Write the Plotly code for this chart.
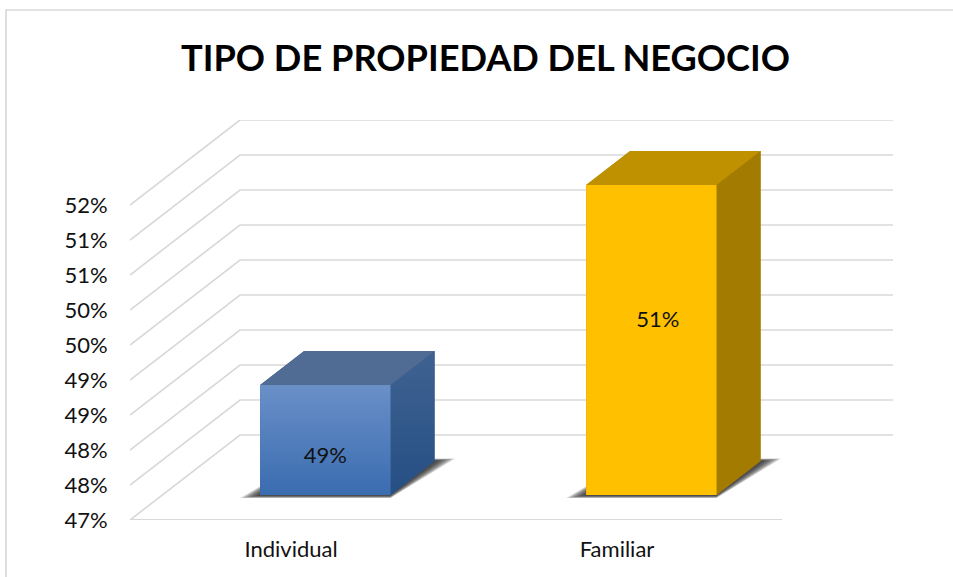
import plotly.graph_objects as go

# ---- data ----
categories = ["Individual", "Familiar"]
values = [48.57, 51.43]
value_labels = ["49%", "51%"]
y_ticks = [47, 47.5, 48, 48.5, 49, 49.5, 50, 50.5, 51, 51.5]
y_tick_labels = ["47%", "48%", "48%", "49%", "49%", "50%", "50%", "51%", "51%", "52%"]
title_text = "TIPO DE PROPIEDAD DEL NEGOCIO"

# ---- 3D projection (oblique), in axis units ----
W, H = 953, 577
L, R, T, B = 130, 60, 120, 57
PX_X = 326.0          # pixels per category
PX_Y = 70.0           # pixels per percentage point
DEPTH_X = 110 / PX_X  # full floor depth expressed in x units
DEPTH_Y = 85 / PX_Y   # full floor depth expressed in y units
BASE = y_ticks[0]
X0 = -0.5
X1 = X0 + (W - L - R) / PX_X
Y1 = BASE + (H - T - B) / PX_Y
HALF = 0.2
D0, D1 = 0.294, 0.694
GRID = "#d9d9d9"
FONT = "Lato"


def proj(x, v, d):
    return x + d * DEPTH_X, v + d * DEPTH_Y


def poly(points, **kw):
    xs, ys = zip(*[proj(*p) for p in points + points[:1]])
    return go.Scatter(x=xs, y=ys, mode="lines", fill="toself", hoverinfo="skip",
                      showlegend=False, line=dict(width=0), **kw)


def grad(bottom, top):
    return dict(type="vertical", colorscale=[[0, bottom], [1, top]])


styles = [
    dict(front=grad("#3a6cb0", "#6a90c8"), side=grad("#264f85", "#3f6290"), top="#516c94",
         back="#30598c"),
    dict(front=grad("#ffc000", "#ffc000"), side=grad("#a37b00", "#a37b00"), top="#bf9000",
         back="#a37b00"),
]

fig = go.Figure()

# gridlines: front-left -> back-left -> back-right
for t in y_ticks:
    a, b, c = (X0, t, 0), (X0, t, 1), (X1 - DEPTH_X, t, 1)
    xs, ys = zip(*[proj(*p) for p in (a, b, c)])
    fig.add_trace(go.Scatter(x=xs, y=ys, mode="lines", hoverinfo="skip", showlegend=False,
                             line=dict(color=GRID, width=1.7)))
# floor front edge
fig.add_trace(go.Scatter(x=[X0, X0 + len(categories)], y=[BASE, BASE], mode="lines",
                         hoverinfo="skip", showlegend=False, line=dict(color=GRID, width=2)))

# bars
LAYERS = 14
for i, v in enumerate(values):
    s = styles[i]
    l, r = i - HALF, i + HALF
    # soft shadow on the floor: layers shrinking towards the bar
    for k in range(LAYERS):
        f = 1 - k / LAYERS
        grow = 0.05 * f
        near = D0 - 0.006 - 0.03 * f
        far = D1 + 0.03 * f
        fig.add_trace(poly([(l - grow, BASE, near), (r + 0.012 * f, BASE, near),
                            (r + 0.004 + grow, BASE, far), (l, BASE, far)],
                           fillcolor="rgba(40,40,40,0.11)"))
    # silhouette backing, so no shadow shows through the seams between faces
    fig.add_trace(poly([(l, BASE, D0), (r, BASE, D0), (r, BASE, D1), (r, v, D1), (l, v, D1), (l, v, D0)],
                       fillcolor=s["back"]))
    # right side
    fig.add_trace(poly([(r, BASE, D0), (r, BASE, D1), (r, v, D1), (r, v, D0)],
                       fillgradient=s["side"]))
    # top
    fig.add_trace(poly([(l, v, D0), (r, v, D0), (r, v, D1), (l, v, D1)],
                       fillcolor=s["top"]))
    # front
    fig.add_trace(poly([(l, BASE, D0), (r, BASE, D0), (r, v, D0), (l, v, D0)],
                       fillgradient=s["front"]))

# value labels, placed inside the front faces
label_anchor = [(0.0, 47.90), (0.02, 49.83)]
fig.add_trace(go.Scatter(
    x=[proj(i + a[0], a[1], 0)[0] + D0 * DEPTH_X for i, a in enumerate(label_anchor)],
    y=[a[1] for a in label_anchor],
    mode="text", text=value_labels, textposition="middle center",
    textfont=dict(family=FONT, size=22, color="#111111"),
    hoverinfo="skip", showlegend=False))

fig.update_layout(
    width=W, height=H,
    margin=dict(l=L, r=R, t=T, b=B, pad=0),
    paper_bgcolor="white", plot_bgcolor="white",
    showlegend=False,
    title=dict(text=f"<b>{title_text}</b>", x=485.5 / W, xanchor="center",
               y=1 - 58 / H, yanchor="middle",
               font=dict(family=FONT, size=36.2, color="black")),
    font=dict(family=FONT, size=22, color="#111111"),
    xaxis=dict(range=[X0, X1], tickmode="array",
               tickvals=[i - 0.006 for i in range(len(categories))], ticktext=categories,
               showgrid=False, zeroline=False, showline=False,
               ticks="outside", ticklen=10, tickcolor="rgba(0,0,0,0)"),
    yaxis=dict(range=[BASE, Y1], tickmode="array", tickvals=y_ticks, ticktext=y_tick_labels,
               showgrid=False, zeroline=False, showline=False,
               ticks="outside", ticklen=17, tickcolor="rgba(0,0,0,0)"),
    shapes=[dict(type="rect", xref="paper", yref="paper", layer="below",
                 x0=(6 - L) / (W - L - R), x1=(W + 20 - L) / (W - L - R),
                 y0=-(H + 20 - T - (H - T - B)) / (H - T - B),
                 y1=1 + (T - 10) / (H - T - B),
                 line=dict(color=GRID, width=1.7), fillcolor="rgba(0,0,0,0)")],
)

fig.write_html("out.html", post_script="document.body.style.margin='0';",
               config=dict(displayModeBar=False))
